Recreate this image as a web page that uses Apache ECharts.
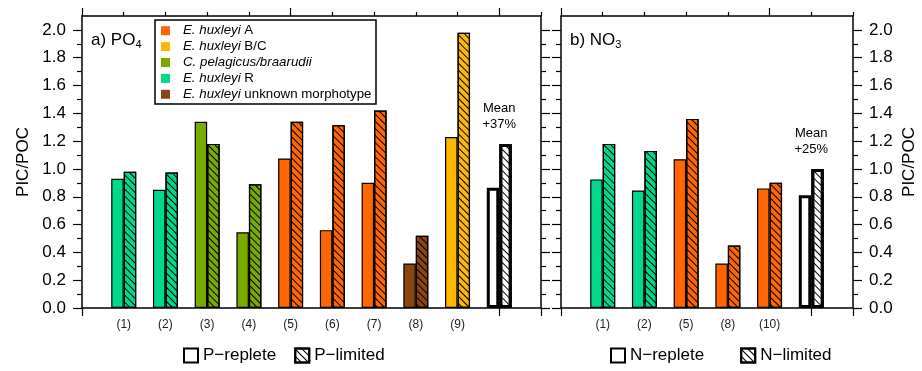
<!DOCTYPE html>
<html>
<head>
    <meta charset="utf-8">
    <title>PIC/POC</title>
    <script src="https://cdn.jsdelivr.net/npm/echarts@6/dist/echarts.min.js"></script>
</head>
<body style="margin:0">
    <div id="main" style="width: 922px;height:371px;"></div>
    <script type="text/javascript">
        var FONT = 'Liberation Sans, Arial, Helvetica, sans-serif';

        // species legend (italic part + plain part)
        var speciesKeys = ['A', 'BC', 'C', 'R', 'U'];
        var speciesItalic = ['E. huxleyi', 'E. huxleyi', 'C. pelagicus/braarudii', 'E. huxleyi', 'E. huxleyi'];
        var speciesSuffix = [' A', ' B/C', '', ' R', ' unknown morphotype'];
        var speciesColors = ['#ff6600', '#ffb800', '#78aa00', '#00d98c', '#8b4513'];

        // a) PO4
        var pLabels = ['(1)', '(2)', '(3)', '(4)', '(5)', '(6)', '(7)', '(8)', '(9)'];
        var pSpecies = ['R', 'R', 'C', 'C', 'A', 'A', 'A', 'U', 'BC'];
        var pReplete = [0.93, 0.85, 1.34, 0.545, 1.075, 0.56, 0.90, 0.32, 1.23];
        var pLimited = [0.98, 0.975, 1.18, 0.89, 1.34, 1.315, 1.42, 0.52, 1.98];
        var pMean = [0.865, 1.18];
        var pMeanText = 'Mean\n+37%';

        // b) NO3
        var nLabels = ['(1)', '(2)', '(5)', '(8)', '(10)'];
        var nSpecies = ['R', 'R', 'A', 'A', 'A'];
        var nReplete = [0.925, 0.845, 1.07, 0.32, 0.86];
        var nLimited = [1.18, 1.13, 1.36, 0.45, 0.90];
        var nMean = [0.81, 1.00];
        var nMeanText = 'Mean\n+25%';

        var yMajor = [0, 0.2, 0.4, 0.6, 0.8, 1.0, 1.2, 1.4, 1.6, 1.8, 2.0];
        var yMinor = [0.1, 0.3, 0.5, 0.7, 0.9, 1.1, 1.3, 1.5, 1.7, 1.9];

        var hatch = {
            symbol: 'rect',
            symbolSize: 1,
            dashArrayX: [1, 0],
            dashArrayY: [1, 4],
            rotation: Math.PI / 4,
            color: '#000'
        };

        function colorOf(key) {
            return speciesColors[speciesKeys.indexOf(key)];
        }

        // category slots: 0 (empty), samples, mean, end
        function cats(labels) {
            return ['start'].concat(labels, ['mean', 'end']);
        }

        function bars(values, species, mean, meanText) {
            var out = ['-'];
            values.forEach(function (v, i) {
                out.push({ value: v, itemStyle: { color: colorOf(species[i]) } });
            });
            var m = { value: mean, itemStyle: { color: '#fff', borderWidth: 3 } };
            if (meanText) {
                m.label = {
                    show: true, position: 'top', distance: 12, offset: [-6.25, 0],
                    formatter: meanText, fontSize: 13, lineHeight: 16, color: '#000', fontFamily: FONT
                };
            }
            out.push(m);
            out.push('-');
            return out;
        }

        function bottomAxis(grid, labels) {
            var n = labels.length;
            return {
                type: 'category', gridIndex: grid, position: 'bottom', boundaryGap: false,
                data: cats(labels),
                axisLine: { onZero: false, lineStyle: { color: '#000', width: 1.5 } },
                axisTick: {
                    length: 8, lineStyle: { color: '#000', width: 1.2 },
                    interval: function (idx) { return idx === 0 || idx >= n + 1; }
                },
                axisLabel: {
                    interval: 0, margin: 11, fontSize: 12, color: '#222', fontFamily: FONT,
                    formatter: function (v) { return v.charAt(0) === '(' ? v : ''; }
                }
            };
        }

        // top frame: ticks every slot, tall ones every 5th
        function topAxes(grid, labels) {
            var slots = cats(labels);
            function ax(len, showLine, pick) {
                return {
                    type: 'category', gridIndex: grid, position: 'top', boundaryGap: false, data: slots,
                    axisLine: { show: showLine, onZero: false, lineStyle: { color: '#000', width: 1.5 } },
                    axisTick: { show: true, length: len, interval: pick, lineStyle: { color: '#000', width: 1.2 } },
                    axisLabel: { show: false }, splitLine: { show: false }
                };
            }
            return [
                ax(4, true, function (idx) { return idx % 5 !== 0; }),
                ax(8, false, function (idx) { return idx % 5 === 0; })
            ];
        }

        function yAxes(grid, labelSide, nameGap) {
            var other = labelSide === 'left' ? 'right' : 'left';
            function ax(pos, major, labelled) {
                var a = {
                    type: 'value', gridIndex: grid, position: pos, min: 0, max: 2.1,
                    axisLine: { show: major, onZero: false, lineStyle: { color: '#000', width: 1.5 } },
                    axisTick: {
                        show: true, length: major ? 9 : 5, customValues: major ? yMajor : yMinor,
                        lineStyle: { color: '#000', width: 1.2 }
                    },
                    axisLabel: { show: false },
                    splitLine: { show: false }
                };
                if (labelled) {
                    a.axisLabel = {
                        show: true, customValues: yMajor, margin: 16, fontSize: 17, color: '#000', fontFamily: FONT,
                        formatter: function (v) { return v.toFixed(1); }
                    };
                    a.name = 'PIC/POC';
                    a.nameLocation = 'middle';
                    a.nameRotate = 90;
                    a.nameGap = nameGap;
                    a.nameTextStyle = { fontSize: 17, color: '#000', fontFamily: FONT };
                }
                return a;
            }
            return [ax(labelSide, true, true), ax(labelSide, false, false), ax(other, true, false), ax(other, false, false)];
        }

        var dom = document.getElementById('main');
        var myChart = echarts.init(dom);

        var graphics = [{
            type: 'rect', shape: { x: 155, y: 20, width: 221, height: 84 },
            style: { fill: '#fff', stroke: '#000', lineWidth: 1.5 }, z: 20
        }];
        speciesKeys.forEach(function (k, i) {
            var cy = 30.7 + i * 15.9;
            graphics.push({
                type: 'rect', shape: { x: 161, y: cy - 4.5, width: 9, height: 9 },
                style: { fill: speciesColors[i] }, z: 21
            });
            graphics.push({
                type: 'text', x: 183, y: cy, z: 21,
                style: {
                    text: '{i|' + speciesItalic[i] + '}' + speciesSuffix[i],
                    verticalAlign: 'middle', fontSize: 13.3, fontFamily: FONT, fill: '#000',
                    rich: { i: { fontStyle: 'italic', fontSize: 13.3, fontFamily: FONT } }
                }
            });
        });
        [['a) PO', '4', 91], ['b) NO', '3', 570]].forEach(function (t) {
            graphics.push({
                type: 'text', x: t[2], y: 40, z: 21,
                style: {
                    text: '{n|' + t[0] + '}{s|' + t[1] + '}', verticalAlign: 'middle', fill: '#000',
                    rich: {
                        n: { fontSize: 17, fontFamily: FONT },
                        s: { fontSize: 11, fontFamily: FONT, padding: [9, 0, 0, 0] }
                    }
                }
            });
        });

        var legendBase = {
            padding: 0, top: 347, icon: 'rect', itemWidth: 14, itemHeight: 14, selectedMode: false,
            textStyle: { fontSize: 17, color: '#000', fontFamily: FONT }
        };

        var option = {
            animation: false,
            textStyle: { fontFamily: FONT },
            grid: [
                { left: 82, top: 16, width: 459, height: 292 },
                { left: 561, top: 16, width: 292, height: 292 }
            ],
            legend: [
                echarts.util.extend({ data: ['P−replete', 'P−limited'], left: 183, itemGap: 18 }, legendBase),
                echarts.util.extend({ data: ['N−replete', 'N−limited'], left: 610, itemGap: 36 }, legendBase)
            ],
            xAxis: [bottomAxis(0, pLabels)].concat(topAxes(0, pLabels),
                [bottomAxis(1, nLabels)], topAxes(1, nLabels)),
            yAxis: yAxes(0, 'left', 50).concat(yAxes(1, 'right', 48)),
            graphic: graphics,
            series: [
                {
                    name: 'P−replete', type: 'bar', xAxisIndex: 0, yAxisIndex: 0, barWidth: 12.5, barGap: '0%',
                    itemStyle: { color: '#fff', borderColor: '#000', borderWidth: 1.2 },
                    data: bars(pReplete, pSpecies, pMean[0])
                },
                {
                    name: 'P−limited', type: 'bar', xAxisIndex: 0, yAxisIndex: 0, barWidth: 12.5, barGap: '0%',
                    itemStyle: { color: '#fff', borderColor: '#000', borderWidth: 1.2, decal: hatch },
                    data: bars(pLimited, pSpecies, pMean[1], pMeanText)
                },
                {
                    name: 'N−replete', type: 'bar', xAxisIndex: 3, yAxisIndex: 4, barWidth: 12.5, barGap: '0%',
                    itemStyle: { color: '#fff', borderColor: '#000', borderWidth: 1.2 },
                    data: bars(nReplete, nSpecies, nMean[0])
                },
                {
                    name: 'N−limited', type: 'bar', xAxisIndex: 3, yAxisIndex: 4, barWidth: 12.5, barGap: '0%',
                    itemStyle: { color: '#fff', borderColor: '#000', borderWidth: 1.2, decal: hatch },
                    data: bars(nLimited, nSpecies, nMean[1], nMeanText)
                }
            ]
        };
        myChart.setOption(option);
    </script>
</body>
</html>
